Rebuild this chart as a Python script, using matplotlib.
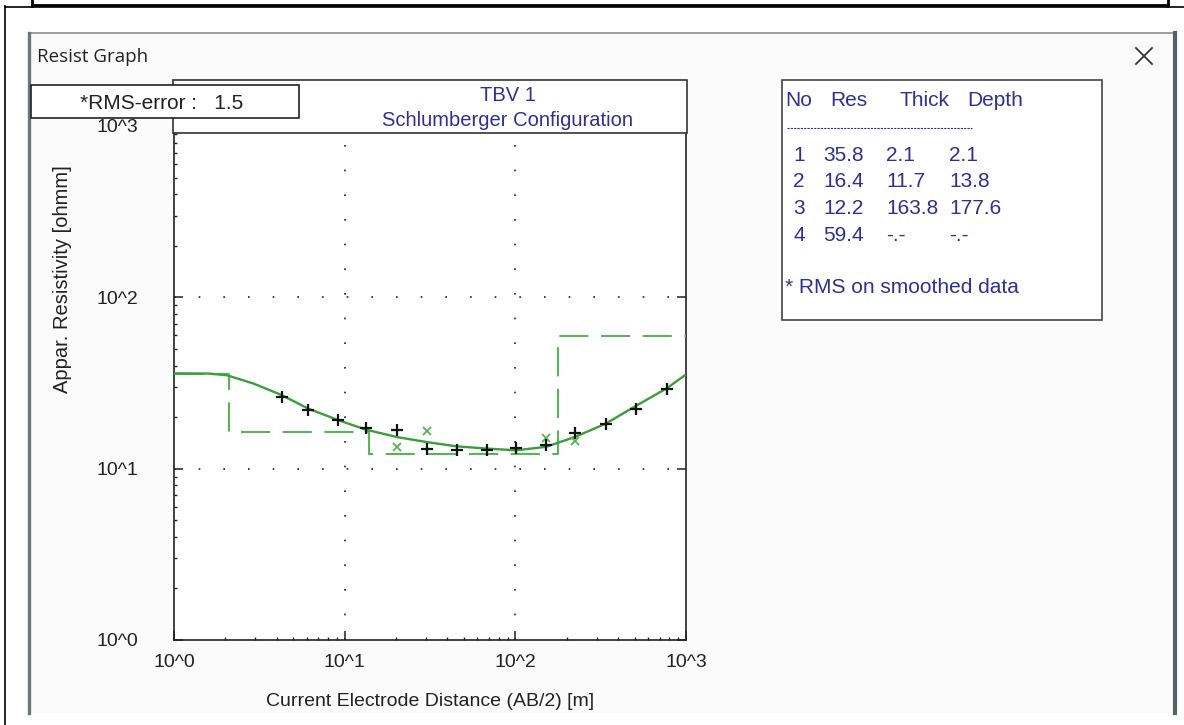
import numpy as np
import matplotlib
matplotlib.use("Agg")
import matplotlib.pyplot as plt
from matplotlib.patches import Rectangle
from matplotlib.ticker import FixedLocator, LogLocator, NullFormatter

plt.rcParams["font.family"] = ["Liberation Sans", "DejaVu Sans"]

W, H = 1184, 725
BLUE = "#2f2f96"
INK = "#222222"
CURVE_GREEN = "#3a9e3a"
MODEL_GREEN = "#57b557"

# sounding data: half electrode spacing AB/2 [m] vs apparent resistivity [ohmm]
ab2_obs = [4.3, 6.1, 9.2, 13.3, 20.2, 30.2, 45.3, 67.9, 100.8, 151, 223, 338, 507, 770]
rho_obs = [26.1, 22.1, 19.2, 17.2, 16.9, 13.1, 12.9, 12.8, 13.2, 13.7, 16.2, 18.2, 22.4, 29.1]

# smoothed values that differ from the raw readings
ab2_smooth = [20.2, 30.2, 151, 223]
rho_smooth = [13.3, 16.6, 15.0, 14.5]

# forward response of the fitted model
ab2_fit = [1.0, 1.6, 2.04, 2.92, 4.27, 6.12, 9.17, 13.3, 20.2, 30.2, 45.3,
           67.9, 100.8, 151, 223, 338, 507, 770, 986]
rho_fit = [36.0, 35.9, 35.1, 31.4, 26.9, 22.4, 19.2, 16.9, 15.3, 14.3, 13.5,
           13.1, 12.8, 13.4, 15.3, 18.3, 23.2, 29.4, 35.1]

# layered model
layer_no = [1, 2, 3, 4]
layer_res = [35.8, 16.4, 12.2, 59.4]
layer_thick = [2.1, 11.7, 163.8, None]
layer_depth = [2.1, 13.8, 177.6, None]

rms_error = 1.5
station = "TBV 1"
config = "Schlumberger Configuration"

decades = [1, 10, 100, 1000]
decade_labels = ["10^0", "10^1", "10^2", "10^3"]


def px(x0, y0, x1, y1):
    """pixel box (top-left origin) -> figure fraction rect"""
    return [x0 / W, 1 - y1 / H, (x1 - x0) / W, (y1 - y0) / H]


fig = plt.figure(figsize=(W / 100, H / 100), dpi=100)
fig.patch.set_facecolor("white")

# ---- window chrome (pixel coordinates) ----
bg = fig.add_axes([0, 0, 1, 1], zorder=0)
bg.set_xlim(0, W); bg.set_ylim(H, 0); bg.axis("off")
bg.add_patch(Rectangle((30, 33), 1143, 680, facecolor="#fbfbfb", edgecolor="none"))
bg.plot([5, 5], [6, H], color="black", lw=1.2)
bg.plot([5, W], [6.5, 6.5], color="black", lw=1.2)
bg.plot([32, 1168], [5, 5], color="black", lw=2.0)
bg.plot([32, 32], [0, 6], color="black", lw=2.0)
bg.plot([1168, 1168], [0, 6], color="black", lw=2.0)
bg.plot([29, 1173], [33, 33], color="#8c8c8c", lw=1.2)
bg.plot([29, 29], [33, 713], color="#6b757c", lw=2.4)
bg.plot([1174.5, 1174.5], [33, 713], color="#56626a", lw=3.0)
bg.text(37, 57, "Resist Graph", fontsize=13.5, color=INK,
        family=["Open Sans", "DejaVu Sans"], va="center", ha="left")
bg.plot([1136, 1152], [48, 64], color="#333333", lw=1.3)
bg.plot([1136, 1152], [64, 48], color="#333333", lw=1.3)

# ---- sounding curve ----
ax = fig.add_axes(px(174, 126, 686, 640), zorder=2)
ax.set_xscale("log"); ax.set_yscale("log")
ax.set_xlim(1, 1000); ax.set_ylim(1, 1000)
ax.set_facecolor("white")

dot = (0, (1, 13.8))
for d in decades[1:-1]:
    ax.axvline(d, color=INK, lw=1.2, linestyle=dot, zorder=1)
    ax.axhline(d, color=INK, lw=1.2, linestyle=dot, zorder=1)

# model as a staircase: resistivity of each layer down to its base depth
edges = [1] + [d for d in layer_depth if d is not None] + [1000]
steps = layer_res + [layer_res[-1]]
ax.step(edges, steps, where="post", color=MODEL_GREEN, lw=1.5,
        linestyle=(0, (14, 6)), zorder=3)
ax.plot(ab2_fit, rho_fit, color=CURVE_GREEN, lw=1.7, zorder=4)
ax.plot(ab2_smooth, rho_smooth, "x", color=MODEL_GREEN, ms=6, mew=1.3, zorder=5)
ax.plot(ab2_obs, rho_obs, "+", color="#111111", ms=9, mew=1.6, zorder=6)

for s in ax.spines.values():
    s.set_linewidth(1.2); s.set_color(INK)
ax.xaxis.set_major_locator(FixedLocator(decades))
ax.yaxis.set_major_locator(FixedLocator(decades))
ax.set_xticklabels(decade_labels); ax.set_yticklabels(decade_labels)
ax.xaxis.set_minor_locator(LogLocator(base=10, subs=np.arange(2, 10)))
ax.yaxis.set_minor_locator(LogLocator(base=10, subs=np.arange(2, 10)))
ax.xaxis.set_minor_formatter(NullFormatter()); ax.yaxis.set_minor_formatter(NullFormatter())
ax.tick_params(which="major", direction="in", length=6.5, width=1.1,
               labelsize=14, colors=INK, right=True)
ax.tick_params(which="minor", direction="in", length=2.2, width=1.0, color=INK)
ax.tick_params(axis="y", which="major", pad=26)
ax.tick_params(axis="x", which="major", pad=10)
ax.set_xlabel("Current Electrode Distance (AB/2) [m]", fontsize=14,
              color=INK, labelpad=16)

# ---- boxes and labels drawn on top ----
fg = fig.add_axes([0, 0, 1, 1], zorder=3)
fg.set_xlim(0, W); fg.set_ylim(H, 0); fg.axis("off")
fg.patch.set_alpha(0)

fg.text(63, 279, "Appar. Resistivity [ohmm]", rotation=90, fontsize=14.5,
        color=INK, ha="center", va="center")

fg.add_patch(Rectangle((173, 80), 514, 53, facecolor="white", edgecolor="#333333", lw=1.2))
fg.text(508, 95, station, fontsize=14.5, color=BLUE, ha="center", va="center")
fg.text(508, 120, config, fontsize=14.5, color=BLUE, ha="center", va="center")

fg.add_patch(Rectangle((31, 85), 268, 33, facecolor="white", edgecolor=INK, lw=1.2))
fg.text(80, 103, f"*RMS-error :   {rms_error}", fontsize=15, color=INK,
        ha="left", va="center")

# layer table
fg.add_patch(Rectangle((782, 80), 320, 240, facecolor="white", edgecolor="#444444", lw=1.2))
for label, x in zip(["No", "Res", "Thick", "Depth"], [785, 830, 900, 967]):
    fg.text(x, 100, label, fontsize=15, color=BLUE, ha="left", va="center")
fg.plot([787, 972], [128, 128], color=BLUE, lw=0.8, linestyle=(0, (2, 1)))
for i, (n, r, t, d) in enumerate(zip(layer_no, layer_res, layer_thick, layer_depth)):
    y = 155 + i * 26.7
    cells = [str(n), f"{r:.1f}",
             "-.-" if t is None else f"{t:.1f}",
             "-.-" if d is None else f"{d:.1f}"]
    for c, x in zip(cells, [793, 823, 886, 949]):
        fg.text(x, y, c, fontsize=15, color=BLUE, ha="left", va="center")
fg.text(785, 287, "* RMS on smoothed data", fontsize=15, color=BLUE,
        ha="left", va="center")

fig.savefig("out.png", dpi=100)
